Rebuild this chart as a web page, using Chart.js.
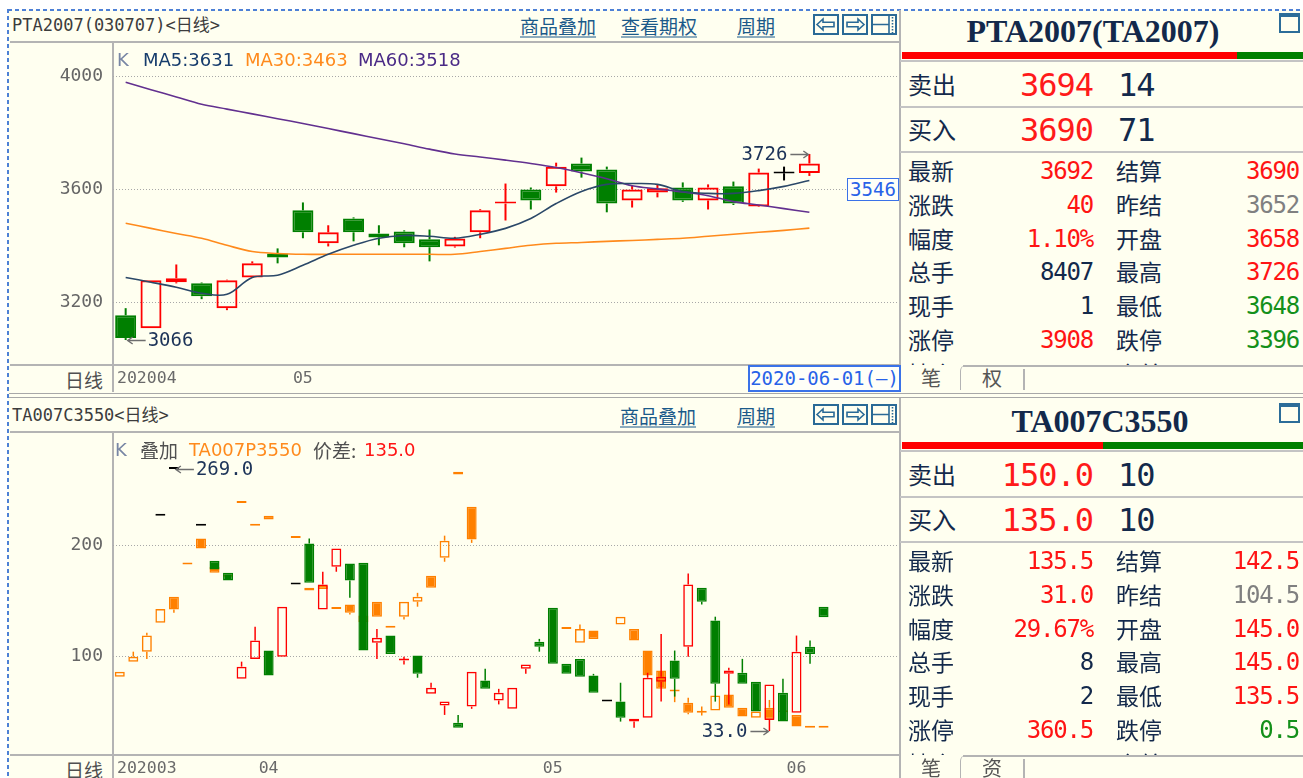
<!DOCTYPE html>
<html>
<head>
<meta charset="utf-8">
<title>PTA2007 / TA007C3550</title>
<script src="https://cdn.jsdelivr.net/npm/chart.js@4.4.1/dist/chart.umd.min.js"></script>
<style>
  html, body { margin: 0; padding: 0; }
  body { width: 1303px; height: 778px; overflow: hidden; position: relative; background: #fff;
         font-family: "DejaVu Sans Mono", "Noto Sans CJK SC", monospace; }
</style>
</head>
<body>
<script>
// ---- PTA2007 futures, daily ----
const ptaDates = ['20200422','20200423','20200424','20200427','20200428','20200429','20200430',
  '20200506','20200507','20200508','20200511','20200512','20200513','20200514','20200515','20200518',
  '20200519','20200520','20200521','20200522','20200525','20200526','20200527','20200528','20200529',
  '20200601','20200602','20200603'];
const ptaOpen  = [3154,3108,3271,3267,3179,3288,3373,3526,3409,3497,3444,3451,3423,3398,3448,3550,3600,3611,3692,3671,3561,3589,3607,3561,3611,3540,3657,3658];
const ptaHigh  = [3179,3278,3334,3270,3280,3345,3391,3554,3473,3501,3473,3455,3458,3432,3530,3621,3607,3695,3713,3681,3614,3618,3625,3618,3628,3674,3681,3726];
const ptaLow   = [3066,3108,3267,3211,3172,3286,3338,3427,3398,3416,3402,3395,3345,3394,3427,3490,3529,3589,3642,3519,3536,3572,3556,3529,3545,3538,3632,3648];
const ptaClose = [3073,3278,3285,3221,3278,3338,3359,3448,3448,3448,3430,3409,3395,3426,3526,3556,3561,3681,3664,3550,3600,3604,3561,3607,3550,3660,3657,3692];
const ptaMA5  = [3288,3271,3253,3232,3228,3288,3296,3331,3370,3402,3427,3437,3434,3427,3441,3462,3497,3550,3593,3618,3621,3618,3593,3586,3586,3596,3611,3632];
const ptaMA30 = [3480,3462,3444,3427,3402,3380,3373,3370,3370,3370,3370,3370,3370,3370,3380,3391,3402,3409,3412,3416,3419,3423,3427,3434,3441,3448,3455,3463];
const ptaMA60 = [3980,3954,3928,3902,3885,3868,3851,3834,3816,3798,3780,3762,3743,3726,3715,3704,3692,3678,3659,3638,3613,3602,3591,3578,3557,3545,3532,3519];
const ptaTicks = [3200, 3600, 4000];
const ptaLegend = ['MA5:3631', 'MA30:3463', 'MA60:3518'];

// ---- TA007C3550 call (main) and TA007P3550 put (overlay), daily ----
const optDates = ['20200317','20200318','20200319','20200320','20200323','20200324','20200325','20200326','20200327','20200330','20200331',
  '20200401','20200402','20200403','20200407','20200408','20200409','20200410','20200413','20200414','20200415','20200416','20200417',
  '20200420','20200421','20200422','20200423','20200424','20200427','20200428','20200429','20200430',
  '20200506','20200507','20200508','20200511','20200512','20200513','20200514','20200515','20200518','20200519','20200520','20200521',
  '20200522','20200525','20200526','20200527','20200528','20200529','20200601','20200602','20200603'];
const callOpen  = [null,null,null,227,269,null,218,186.5,175.5,80,98,105.5,100,165,202,142.5,181,184,184.5,112.5,119,96.5,101,66.5,56,40.5,55,78.5,60.5,53,89,113.5,144,93.5,98,83,59.5,59.5,41.5,45,77.5,96.5,109,162,132.5,84.5,85.5,77.5,43,67.5,49.5,109,145];
const callHigh  = [null,null,null,227,269,null,218,186.5,175.5,95.5,127,105.5,145,165,206.5,176.5,197.5,184,184.5,125,119,100,101,76.5,59.5,47.5,86.5,89,71,72,93,116,144,93.5,98,84.5,59.5,76.5,44,85.5,120.5,105.5,175,162,136,90,98,77.5,75,80,119,114.5,145];
const callLow   = [null,null,null,227,269,null,218,178.5,168.5,80,98,83,100,165,166.5,142.5,176.5,153,105.5,98,102.5,93,81,66.5,47.5,36,53,71,57,53,84.5,104.5,93.5,84.5,82,67.5,59.5,41.5,36,45,59.5,64,100,147,59.5,57,75.5,50.5,33,41.5,49.5,93.5,135.5];
const callClose = [null,null,null,227,269,null,218,178.5,168.5,91,114.5,83,145,165,166.5,165,197.5,168.5,105.5,117,102.5,98,84.5,72,59.5,36,86.5,71,67.5,72,93,109,93.5,84.5,82,67.5,59.5,45,44,81,82,80,165,149.5,75.5,87.5,75.5,50.5,75,41.5,104.5,102.5,135.5];
const putOpen  = [82,95.5,104.5,130.5,154,183,206.5,181,172,238.5,218,227,null,207,162,164,143,147,137,149.5,126,136,149.5,173,189,264,235,null,null,null,null,null,null,125,112.5,123.5,null,129,125,105.5,87.5,70.5,58.5,49.5,51.5,66,54,45,54,50,47.5,36,36];
const putHigh  = [86.5,104.5,121.5,143,154,183,206.5,181,172,238.5,218,227,null,207,162,164,143,147,137,149.5,126,149.5,157.5,173,209,266.5,235,null,null,null,null,null,null,125,129,123.5,null,136,125,105.5,87.5,70.5,63,55,65,66,54,50.5,61,50,47.5,36,36];
const putLow   = [82,95.5,98,130.5,139.5,183,197.5,175.5,172,238.5,218,223.5,null,207,159.5,161,143,138,131,136,126,133.5,145,162,185.5,264,202.5,null,null,null,null,null,null,125,112.5,116,null,129,114.5,83,71,59,48,47,51.5,54,46,45,44,50,37,36,36];
const putClose = [86.5,100,119,143,142.5,183,197.5,175.5,172,238.5,218,223.5,null,207,159.5,161,143,139.5,131,136,126,149.5,154,162,204.5,266.5,205.5,null,null,null,null,null,null,125,125,116,null,136,114.5,83,71,68.5,49.5,49.5,65,54,46,50.5,44,50,37,36,36];
const optTicks = [100, 200];

// ---- quote panels ----
const quoteNamesL = ['最新', '涨跌', '幅度', '总手', '现手', '涨停', '持仓'];
const quoteNamesR = ['结算', '昨结', '开盘', '最高', '最低', '跌停', '仓差'];
const ptaAsk = ['3694', 14], ptaBid = ['3690', 71];
const ptaValsL = ['3692', '40', '1.10%', '8407', '1', '3908', ''];
const ptaValsR = ['3690', '3652', '3658', '3726', '3648', '3396', ''];
const ptaToneL = ['up', 'up', 'up', 'vol', 'vol', 'up', 'vol'];
const ptaToneR = ['up', 'flat', 'up', 'up', 'down', 'down', 'vol'];
const optAsk = ['150.0', 10], optBid = ['135.0', 10];
const optValsL = ['135.5', '31.0', '29.67%', '8', '2', '360.5', ''];
const optValsR = ['142.5', '104.5', '145.0', '145.0', '135.5', '0.5', ''];
const optToneL = ['up', 'up', 'up', 'vol', 'vol', 'up', 'vol'];
const optToneR = ['up', 'flat', 'up', 'up', 'up', 'down', 'vol'];

const GRID = '#b4b4b4', NAVY = '#13294b', CJK = 'font-family:"Noto Sans CJK SC",sans-serif;';
const TONE = { up: '#ff1414', down: '#14901a', flat: '#808080', vol: NAVY };

function el(tag, css, html, parent) {
  const e = document.createElement(tag);
  e.style.cssText = 'position:absolute;' + css;
  if (html != null) e.innerHTML = html;
  (parent || document.body).appendChild(e);
  return e;
}
function rule(x, y, w, h, c) {
  return el('div', `left:${x}px;top:${y}px;width:${w}px;height:${h}px;background:${c || GRID}`);
}
function label(x, y, s, css, align, parent) {
  const tx = align === 'right' ? '-100%' : align === 'center' ? '-50%' : '0';
  return el('div', `left:${x}px;top:${y}px;transform:translate(${tx},-50%);white-space:nowrap;line-height:1;${css || ''}`, s, parent);
}

// background + selection frame
el('div', 'left:8px;top:10px;width:1295px;height:768px;background:#fffff0');
el('div', 'left:8px;top:9px;width:1295px;height:2px;background:repeating-linear-gradient(90deg,#4d80d6 0 4px,transparent 4px 7px)');
el('div', 'left:7px;top:9px;width:2px;height:769px;background:repeating-linear-gradient(180deg,#4d80d6 0 4px,transparent 4px 7px)');

const ICON_STROKE = '#2a6a96';
const icons = [
  `<svg width="26" height="21"><rect x="1" y="1" width="24" height="19" fill="none" stroke="${ICON_STROKE}" stroke-width="2"/><path d="M4 10.5 10 5v3.2h11v4.6H10V16z" fill="none" stroke="${ICON_STROKE}" stroke-width="1.6"/></svg>`,
  `<svg width="26" height="21"><rect x="1" y="1" width="24" height="19" fill="none" stroke="${ICON_STROKE}" stroke-width="2"/><path d="M22 10.5 16 5v3.2H5v4.6h11V16z" fill="none" stroke="${ICON_STROKE}" stroke-width="1.6"/></svg>`,
  `<svg width="26" height="21"><rect x="1" y="1" width="24" height="19" fill="none" stroke="${ICON_STROKE}" stroke-width="2"/><path d="M2 10.5H18M18 2V19" stroke="${ICON_STROKE}" stroke-width="1.6"/><path d="M21.5 3V19" stroke="${ICON_STROKE}" stroke-width="1.6" stroke-dasharray="1.5 1.5"/></svg>`
];

function buildPanel(p) {
  const dy = p.dy;
  // left: chart frame
  label(12, 25 + dy, p.head, 'font-size:17px;color:#3c3c3c');
  p.links.forEach(([s, x]) => label(x, 25 + dy, s, CJK + 'font-size:19px;color:#1b5a8a;text-decoration:underline;text-underline-offset:3px'));
  icons.forEach((svg, i) => el('div', `left:${813 + i * 29}px;top:${14 + dy}px;width:26px;height:21px`, svg));
  rule(10, 41 + dy, 889, 1.5);
  rule(112, 41 + dy, 1.5, 351);
  rule(10, 364 + dy, 889, 1.5);
  rule(899, dy ? dy + 8 : 10, 1.5, dy ? 384 : 382);
  label(103, 379 + dy, '日线', CJK + 'font-size:19px;color:#505050', 'right');
  rule(9, 392.5 + dy, 1294, 1.5, '#a8a8a8');
  rule(9, 396.5 + dy, 1294, 1.5, '#a8a8a8');

  // right: quote board
  label(p.titleX, 31 + dy, p.title, 'font:bold 32px "Liberation Serif";color:' + NAVY, 'center');
  el('div', `left:1279px;top:${13 + dy}px;width:17px;height:14px;border:2px solid #2c6d99;border-top-width:4px`);
  const split = 902 + 401 * p.bid[1] / (p.bid[1] + p.ask[1]);
  rule(902, 52 + dy, split - 902, 7, '#ff0000');
  rule(split, 52 + dy, 1303 - split, 7, '#008000');
  rule(900, 60 + dy, 403, 1.5, '#c4c4c4');
  [['卖出', p.ask, 84], ['买入', p.bid, 129]].forEach(([name, q, y]) => {
    label(908, y + dy, name, CJK + 'font-size:24px;color:' + NAVY);
    label(1093, y + 1 + dy, q[0], 'font-size:32px;letter-spacing:-1px;color:#ff1a1a', 'right');
    label(1118, y + 1 + dy, String(q[1]), 'font-size:32px;letter-spacing:-1px;color:' + NAVY);
  });
  rule(900, 106 + dy, 403, 1.5, '#c4c4c4');
  rule(900, 151 + dy, 403, 1.5, '#c4c4c4');
  const box = el('div', `left:900px;top:${153 + dy}px;width:403px;height:212px;overflow:hidden`);
  quoteNamesL.forEach((n, j) => {
    const y = 17 + 33.8 * j;
    label(8, y, n, CJK + 'font-size:23px;color:' + NAVY, 'left', box);
    label(193, y + 1, p.valsL[j], 'font-size:24px;letter-spacing:-1.2px;color:' + TONE[p.toneL[j]], 'right', box);
    label(216, y, quoteNamesR[j], CJK + 'font-size:23px;color:' + NAVY, 'left', box);
    label(399, y + 1, p.valsR[j], 'font-size:24px;letter-spacing:-1.2px;color:' + TONE[p.toneR[j]], 'right', box);
  });
  rule(963, 365 + dy, 340, 1.5);
  el('div', `left:960px;top:${365 + dy}px;width:5px;height:25px;border-left:1.5px solid ${GRID};border-top-left-radius:7px`);
  rule(1023, 369 + dy, 1.5, 21);
  label(931, 378 + dy, p.tabs[0], CJK + 'font-size:20px;color:#555', 'center');
  label(992, 378 + dy, p.tabs[1], CJK + 'font-size:20px;color:#555', 'center');

  const c = el('canvas', `left:10px;top:${42 + dy}px;width:888px;height:348px`);
  c.width = 888; c.height = 348;
  return c;
}

// month labels under the x axis and high / low tags, placed through the chart scales
function tag(ctx, x, y, i, v, dp) {
  const cx = x.getPixelForValue(i), cy = Math.round(y.getPixelForValue(v)) + 0.5;
  const onLeft = cx > (x.left + x.right) / 2;
  ctx.strokeStyle = '#6e6e6e'; ctx.lineWidth = 1.4;
  ctx.beginPath();
  if (onLeft) {
    const t = cx - 1;
    ctx.moveTo(t - 18, cy); ctx.lineTo(t, cy);
    ctx.moveTo(t - 5, cy - 3.5); ctx.lineTo(t, cy); ctx.lineTo(t - 5, cy + 3.5);
  } else {
    const t = cx + 2;
    ctx.moveTo(t + 18, cy); ctx.lineTo(t, cy);
    ctx.moveTo(t + 5, cy - 3.5); ctx.lineTo(t, cy); ctx.lineTo(t + 5, cy + 3.5);
  }
  ctx.stroke();
  ctx.fillStyle = '#1c3358';
  ctx.font = '19px "DejaVu Sans Mono"';
  ctx.textAlign = onLeft ? 'right' : 'left';
  ctx.fillText(v.toFixed(dp), onLeft ? cx - 22 : cx + 22, cy + 1);
}
const marks = {
  id: 'marks',
  afterDraw(chart, args, o) {
    const { ctx, scales: { x, y } } = chart;
    ctx.save();
    ctx.textBaseline = 'middle';
    ctx.textAlign = 'left';
    ctx.fillStyle = '#6a6a6a';
    ctx.font = '16.5px "DejaVu Sans Mono"';
    o.dates.forEach((d, i) => {
      const m = d.slice(0, 6);
      if (i && m === o.dates[i - 1].slice(0, 6)) return;
      ctx.fillText(i ? m.slice(4) : m, Math.max(x.getPixelForValue(i) - 10, x.left + 4), x.top + 15);
    });
    let hi = -Infinity, hiI = 0, lo = Infinity, loI = 0;
    o.high.forEach((v, i) => { if (v != null && v > hi) { hi = v; hiI = i; } });
    o.low.forEach((v, i) => { if (v != null && v < lo) { lo = v; loI = i; } });
    tag(ctx, x, y, hiI, hi, o.dp);
    tag(ctx, x, y, loI, lo, o.dp);
    ctx.restore();
  }
};

function candleSets(o, h, l, c, st) {
  const tone = o.map((v, i) => v == null ? st.flat : c[i] > v ? st.up : c[i] < v ? st.down : st.flat);
  const common = { type: 'bar', grouped: false, inflateAmount: 0, borderSkipped: false };
  return [
    { ...common, order: st.order, data: o.map((v, i) => v == null ? null : [v, c[i]]),
      backgroundColor: o.map((v, i) => v != null && c[i] > v ? 'rgba(0,0,0,0)' : tone[i]),
      borderColor: tone, borderWidth: st.line, barThickness: st.body, minBarLength: 2 },
    { ...common, order: st.order + 1, data: o.map((v, i) => v == null ? null : [Math.max(v, c[i]), h[i]]),
      backgroundColor: tone, borderWidth: 0, barThickness: st.wick },
    { ...common, order: st.order + 1, data: o.map((v, i) => v == null ? null : [l[i], Math.min(v, c[i])]),
      backgroundColor: tone, borderWidth: 0, barThickness: st.wick }
  ];
}
const maLine = (data, color) => ({ type: 'line', data, borderColor: color, borderWidth: 1.6, pointRadius: 0, tension: 0.35, order: 0 });

function candleChart(canvas, cfg) {
  return new Chart(canvas, {
    type: 'bar',
    data: { labels: cfg.labels, datasets: cfg.datasets },
    options: {
      responsive: false, animation: false, events: [],
      layout: { padding: 0 },
      plugins: { legend: { display: false }, tooltip: { enabled: false }, marks: cfg.marks },
      scales: {
        x: { type: 'category', offset: true, grid: { display: false }, border: { display: false }, ticks: { display: false },
             afterFit: s => { s.height = 26; s.paddingLeft = 0; s.paddingRight = 0; } },
        y: { type: 'linear', min: cfg.min, max: cfg.max,
             afterBuildTicks: s => { s.ticks = cfg.ticks.map(v => ({ value: v })); },
             afterFit: s => { s.width = 103; s.paddingTop = 0; s.paddingBottom = 0; },
             grid: { color: '#a8a8a8', lineWidth: 1, drawTicks: false },
             border: { display: false, dash: [1, 2] },
             ticks: { padding: 10, color: '#666', font: { family: 'DejaVu Sans Mono', size: 18 }, callback: v => String(v) } }
      }
    },
    plugins: [marks]
  });
}

// ---- top: PTA2007 ----
const topCanvas = buildPanel({ dy: 0, head: 'PTA2007(030707)&lt;日线&gt;',
  links: [['商品叠加', 520], ['查看期权', 621], ['周期', 737]],
  title: 'PTA2007(TA2007)', titleX: 1093, ask: ptaAsk, bid: ptaBid,
  valsL: ptaValsL, valsR: ptaValsR, toneL: ptaToneL, toneR: ptaToneR, tabs: ['笔', '权'] });
label(117, 59, 'K', 'font:18px "DejaVu Sans";color:#7886a4');
label(143, 59, ptaLegend[0], 'font:18px "DejaVu Sans";color:#163c6c');
label(245, 59, ptaLegend[1], 'font:18px "DejaVu Sans";color:#ff8a1c');
label(358, 59, ptaLegend[2], 'font:18px "DejaVu Sans";color:#4a2a86');

candleChart(topCanvas, {
  labels: Array.from({ length: 31 }, (_, i) => ptaDates[i] || ''),
  min: 2981, max: 4123, ticks: ptaTicks,
  marks: { dates: ptaDates, high: ptaHigh, low: ptaLow, dp: 0 },
  datasets: [
    maLine(ptaMA5, '#2b4868'), maLine(ptaMA30, '#ff8a1c'), maLine(ptaMA60, '#62308f'),
    ...candleSets(ptaOpen, ptaHigh, ptaLow, ptaClose, { up: '#ff0000', down: '#007f00', flat: '#000000', line: 2, body: 21, wick: 2, order: 1 })
  ]
});
el('div', 'left:847px;top:178px;width:50px;height:21px;border:1.5px solid #3a72e8;background:#fffff8;color:#2862e8;font-size:19px;line-height:21px;text-align:center', '3546');
el('div', 'left:748px;top:365px;width:149px;height:23px;border:2px solid #3a72e8;background:#fffff8;color:#2862e8;font-size:19px;line-height:23px;text-align:center', '2020-06-01(—)');

// ---- bottom: TA007C3550 with TA007P3550 overlay ----
const botCanvas = buildPanel({ dy: 390, head: 'TA007C3550&lt;日线&gt;',
  links: [['商品叠加', 620], ['周期', 737]],
  title: 'TA007C3550', titleX: 1100, ask: optAsk, bid: optBid,
  valsL: optValsL, valsR: optValsR, toneL: optToneL, toneR: optToneR, tabs: ['笔', '资'] });
label(115, 449, 'K', 'font:18px "DejaVu Sans";color:#7886a4');
label(140, 449, '叠加', CJK + 'font-size:19px;color:#505050');
label(189, 449, 'TA007P3550', 'font:18px "DejaVu Sans";color:#ff8a1c');
label(313, 449, '价差:', CJK + 'font-size:19px;color:#505050');
label(364, 449, '135.0', 'font:18px "DejaVu Sans";color:#ff1414');

candleChart(botCanvas, {
  labels: Array.from({ length: 58 }, (_, i) => optDates[i] || ''),
  min: 12.3, max: 302.4, ticks: optTicks,
  marks: { dates: optDates, high: callHigh, low: callLow, dp: 1 },
  datasets: [
    ...candleSets(callOpen, callHigh, callLow, callClose, { up: '#ff0000', down: '#007f00', flat: '#000000', line: 1.5, body: 10, wick: 1.5, order: 0 }),
    ...candleSets(putOpen, putHigh, putLow, putClose, { up: '#ff8000', down: '#ff8000', flat: '#ff8000', line: 1.5, body: 10, wick: 1.5, order: 2 })
  ]
});
</script>
</body>
</html>
